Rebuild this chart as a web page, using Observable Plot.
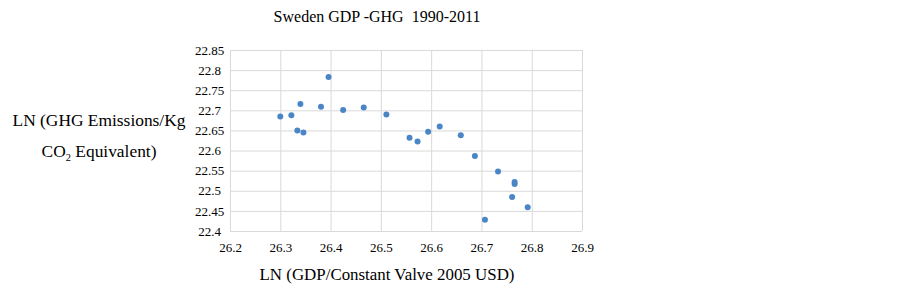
<!DOCTYPE html>
<html>
<head>
<meta charset="utf-8">
<script src="https://cdn.jsdelivr.net/npm/d3@7"></script>
<script src="https://cdn.jsdelivr.net/npm/@observablehq/plot@0.6"></script>
<style>
  html, body { margin: 0; padding: 0; background: #fff; }
  #chart svg { display: block; }
</style>
</head>
<body>
<div id="chart"></div>
<script>
const titleText = "Sweden GDP -GHG  1990-2011";
const xTitle = "LN (GDP/Constant Valve 2005 USD)";
const yTitleLine1 = "LN (GHG Emissions/Kg";
const yTitleLine2a = "CO";
const yTitleLine2sub = "2";
const yTitleLine2b = " Equivalent)";

const lnGdp = [26.299, 26.321, 26.339, 26.333, 26.345, 26.380, 26.395, 26.424, 26.465, 26.510,
               26.556, 26.572, 26.593, 26.616, 26.658, 26.686, 26.732, 26.765, 26.765, 26.760,
               26.791, 26.706];
const lnGhg = [22.686, 22.689, 22.717, 22.651, 22.646, 22.710, 22.784, 22.702, 22.708, 22.691,
               22.633, 22.624, 22.648, 22.661, 22.639, 22.588, 22.549, 22.523, 22.518, 22.486,
               22.460, 22.429];

const xTicks = [26.2, 26.3, 26.4, 26.5, 26.6, 26.7, 26.8, 26.9];
const yTicks = [22.4, 22.45, 22.5, 22.55, 22.6, 22.65, 22.7, 22.75, 22.8, 22.85];

const points = lnGdp.map((x, i) => ({x, y: lnGhg[i]}));
const fmt = d => String(+d.toFixed(2));
const grid = "#d9d9d9";
const font = "'Liberation Serif', 'Times New Roman', serif";

const chart = Plot.plot({
  width: 903,
  height: 292,
  marginLeft: 230,
  marginRight: 321,
  marginTop: 50,
  marginBottom: 61,
  style: {fontFamily: font, fontSize: "13px", color: "#000", background: "#fff"},
  x: {domain: [26.2, 26.9]},
  y: {domain: [22.4, 22.85]},
  marks: [
    Plot.gridX(xTicks, {stroke: grid, strokeOpacity: 1, strokeWidth: 1}),
    Plot.gridY(yTicks, {stroke: grid, strokeOpacity: 1, strokeWidth: 1}),
    Plot.axisX(xTicks, {tickSize: 0, tickPadding: 11, tickFormat: fmt, label: null, fontSize: 13, fill: "#000"}),
    Plot.axisY(yTicks, {tickSize: 0, tickPadding: 0, dx: -21, textAnchor: "middle", tickFormat: fmt, label: null, fontSize: 13, fill: "#000"}),
    Plot.dot(points, {x: "x", y: "y", r: 3, fill: "#4a86c6", stroke: "none"})
  ]
});

document.getElementById("chart").appendChild(chart);

const svg = d3.select(chart);
svg.append("text")
  .attr("x", 377).attr("y", 22)
  .attr("text-anchor", "middle")
  .style("white-space", "pre")
  .attr("xml:space", "preserve")
  .attr("font-family", font).attr("font-size", 16).attr("fill", "#000")
  .text(titleText);

svg.append("text")
  .attr("x", 387).attr("y", 280)
  .attr("text-anchor", "middle")
  .attr("font-family", font).attr("font-size", 16.9).attr("fill", "#000")
  .text(xTitle);

svg.append("text")
  .attr("x", 99).attr("y", 126)
  .attr("text-anchor", "middle")
  .attr("font-family", font).attr("font-size", 17.4).attr("fill", "#000")
  .text(yTitleLine1);

const t2 = svg.append("text")
  .attr("x", 99).attr("y", 157)
  .attr("text-anchor", "middle")
  .attr("font-family", font).attr("font-size", 17.4).attr("fill", "#000")
  .style("white-space", "pre")
  .attr("xml:space", "preserve");
t2.append("tspan").text(yTitleLine2a);
t2.append("tspan").attr("dy", 4).attr("font-size", 10.5).text(yTitleLine2sub);
t2.append("tspan").attr("dy", -4).text(yTitleLine2b);
</script>
</body>
</html>
